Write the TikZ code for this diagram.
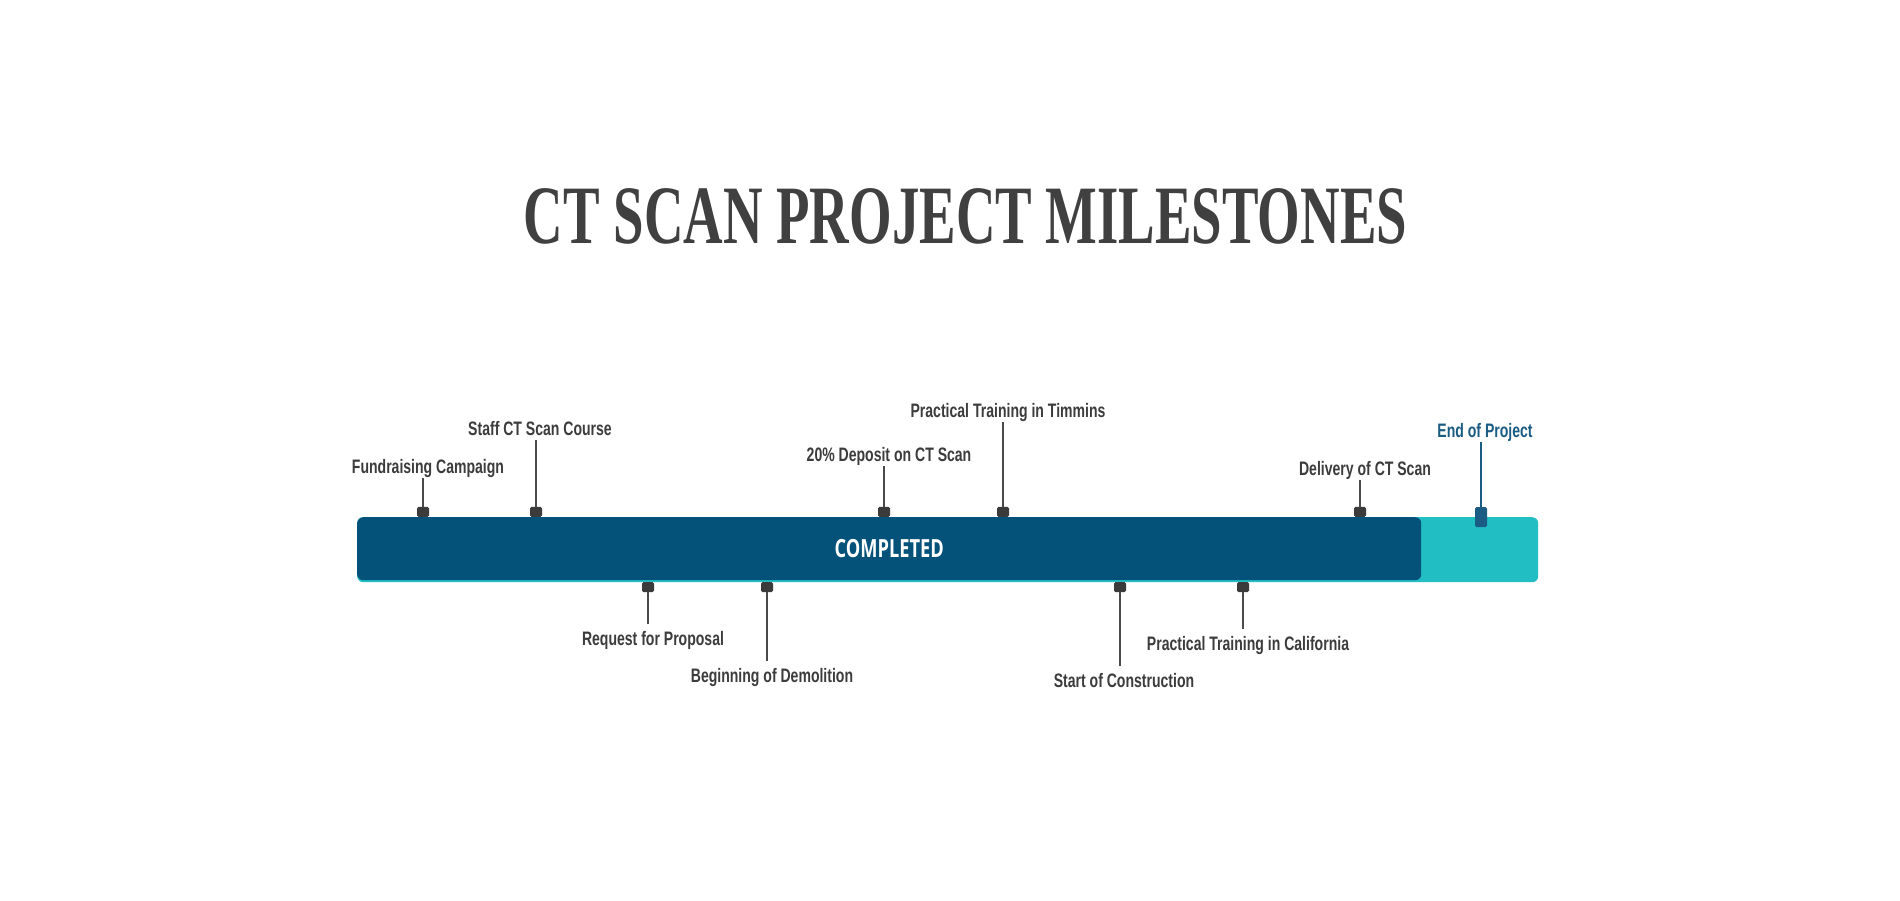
\documentclass[tikz,border=0pt]{standalone}
\usepackage{fontspec}
\setmainfont{Liberation Sans}
\newfontfamily\titlefont{Liberation Serif}
\newfontfamily\compfont{Open Sans}
\definecolor{titlegray}{HTML}{404040}
\definecolor{labelgray}{HTML}{3C3C3C}
\definecolor{tickgray}{HTML}{3B3B3B}
\definecolor{linegray}{HTML}{4A4A4A}
\definecolor{darkbar}{HTML}{04527A}
\definecolor{tealbar}{HTML}{21BEC3}
\definecolor{endblue}{HTML}{1B5C84}
\begin{document}
\begin{tikzpicture}[x=1pt,y=-1pt,
  lbl/.style={anchor=base, text=labelgray, font=\fontsize{19.5}{22}\selectfont\bfseries},
  tickbox/.style={fill=tickgray, minimum width=12pt, minimum height=10pt, inner sep=0pt, rounded corners=1.5pt},
  stem/.style={draw=linegray, line width=1.4pt}]
\useasboundingbox[fill=white] (0,0) rectangle (1900,900);
% title
\node[anchor=base, text=titlegray, font=\titlefont\bfseries\fontsize{83}{90}\selectfont] (title) at (965.5,243) {\scalebox{0.66}[1]{CT SCAN PROJECT MILESTONES}};
% bars
\node[fill=tealbar, rounded corners=6pt, minimum width=1181pt, minimum height=65pt, inner sep=0pt, anchor=north west] (rest) at (357,517) {};
\node[fill=darkbar, rounded corners=6pt, minimum width=1064pt, minimum height=63pt, inner sep=0pt, anchor=north west, text=white, font=\compfont\bfseries\fontsize{25}{28}\selectfont] (done) at (357,517) {\scalebox{0.73}[1]{COMPLETED}};
% upper ticks
\node[tickbox, anchor=south] (t1) at (423,517) {};
\node[tickbox, anchor=south] (t2) at (536,517) {};
\node[tickbox, anchor=south] (t5) at (884,517) {};
\node[tickbox, anchor=south] (t6) at (1003,517) {};
\node[tickbox, anchor=south] (t9) at (1360,517) {};
\node[tickbox, anchor=north, fill=endblue, minimum height=20pt] (t10) at (1481,507) {};
% lower ticks
\node[tickbox, anchor=north] (t3) at (648,582) {};
\node[tickbox, anchor=north] (t4) at (767,582) {};
\node[tickbox, anchor=north] (t7) at (1120,582) {};
\node[tickbox, anchor=north] (t8) at (1243,582) {};
% upper labels
\node[lbl] (l1) at (428,473) {\scalebox{0.72}[1]{Fundraising Campaign}};
\node[lbl] (l2) at (540,435) {\scalebox{0.72}[1]{Staff CT Scan Course}};
\node[lbl] (l5) at (889,461) {\scalebox{0.72}[1]{20\% Deposit on CT Scan}};
\node[lbl] (l6) at (1008,417) {\scalebox{0.72}[1]{Practical Training in Timmins}};
\node[lbl] (l9) at (1365,475) {\scalebox{0.72}[1]{Delivery of CT Scan}};
\node[lbl, text=endblue] (l10) at (1485,437) {\scalebox{0.72}[1]{End of Project}};
% lower labels
\node[lbl] (l3) at (653,645) {\scalebox{0.72}[1]{Request for Proposal}};
\node[lbl] (l4) at (772,682) {\scalebox{0.72}[1]{Beginning of Demolition}};
\node[lbl] (l7) at (1124,687) {\scalebox{0.72}[1]{Start of Construction}};
\node[lbl] (l8) at (1248,650) {\scalebox{0.72}[1]{Practical Training in California}};
% stems upper
\draw[stem] (t1.north) -- ([yshift=-5pt]l1.base -| t1.north);
\draw[stem] (t2.north) -- ([yshift=-5pt]l2.base -| t2.north);
\draw[stem] (t5.north) -- ([yshift=-5pt]l5.base -| t5.north);
\draw[stem] (t6.north) -- ([yshift=-5pt]l6.base -| t6.north);
\draw[stem] (t9.north) -- ([yshift=-5pt]l9.base -| t9.north);
\draw[stem, draw=endblue] (t10.north) -- ([yshift=-5pt]l10.base -| t10.north);
% stems lower
\draw[stem] (t3.south) -- ([yshift=21pt]l3.base -| t3.south);
\draw[stem] (t4.south) -- ([yshift=21pt]l4.base -| t4.south);
\draw[stem] (t7.south) -- ([yshift=21pt]l7.base -| t7.south);
\draw[stem] (t8.south) -- ([yshift=21pt]l8.base -| t8.south);
\end{tikzpicture}
\end{document}
